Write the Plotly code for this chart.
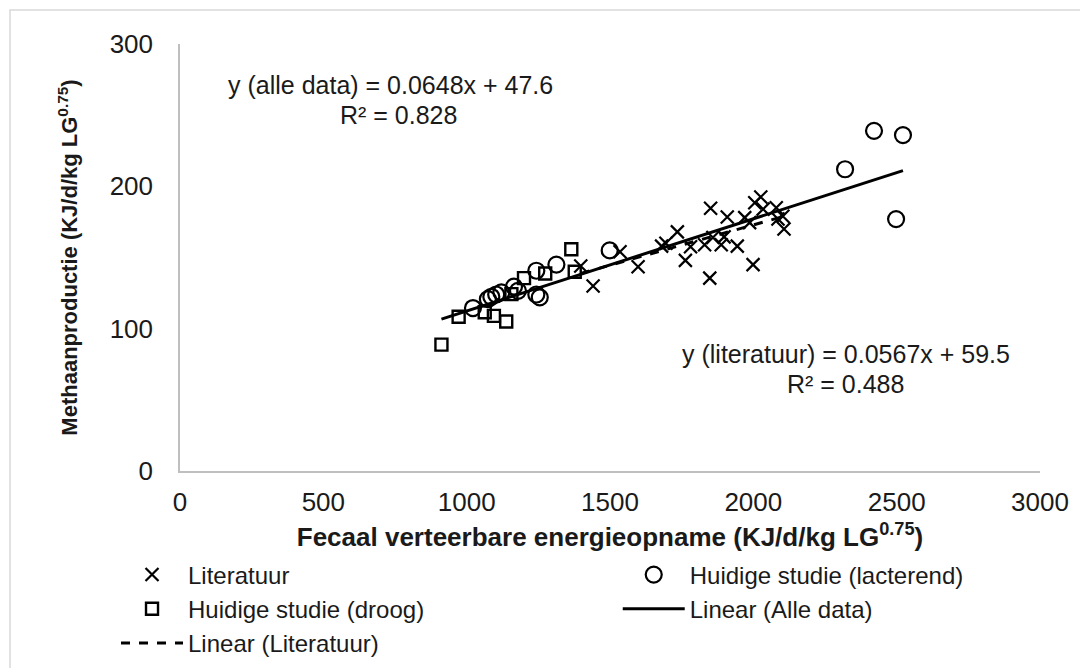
import plotly.graph_objects as go

# ---- data ----
lit_x = [1398, 1441, 1535, 1598, 1680, 1695, 1735, 1763, 1781, 1830, 1848, 1851, 1859,
         1888, 1898, 1909, 1944, 1970, 1987, 1999, 2005, 2026, 2034, 2080, 2086, 2103, 2107]
lit_y = [144, 130, 154, 143.5, 158, 160, 168, 148, 157.5, 159, 135.5, 184.6, 164,
         159, 164.5, 178.5, 158, 178, 174.5, 145, 188.5, 192.5, 184, 185, 177, 179, 170]

lac_x = [1022, 1074, 1086, 1103, 1121, 1165, 1179, 1243, 1255, 1243, 1313, 1499, 2320, 2421, 2522, 2498]
lac_y = [114.5, 120.8, 122.4, 124, 125.5, 129.5, 126.6, 124, 122, 140.7, 145, 155, 212, 239, 236, 177]

droog_x = [912, 972, 1063, 1095, 1138, 1156, 1200, 1274, 1365, 1377]
droog_y = [88.8, 108.4, 111.5, 109, 105, 124.3, 135.5, 138.8, 155.8, 140]

# trendline coefficients (as printed on chart)
all_slope, all_icpt = 0.0648, 47.6
lit_slope, lit_icpt = 0.0567, 59.5

x_ticks = [0, 500, 1000, 1500, 2000, 2500, 3000]
y_ticks = [0, 100, 200, 300]

all_x = lit_x + lac_x + droog_x
ax_min, ax_max = min(all_x), max(all_x)
lx_min, lx_max = min(lit_x), max(lit_x)

FONT = "Liberation Sans, Arial, sans-serif"
INK = "#000000"
TXT = "#1a1a1a"

fig = go.Figure()
fig.add_trace(go.Scatter(x=lit_x, y=lit_y, mode="markers", name="Literatuur", legend="legend",
                         marker=dict(symbol="x-thin", size=13, color=INK,
                                     line=dict(width=2.2, color=INK))))
fig.add_trace(go.Scatter(x=lac_x, y=lac_y, mode="markers", name="Huidige studie (lacterend)",
                         legend="legend2",
                         marker=dict(symbol="circle-open", size=16, color=INK,
                                     line=dict(width=2.2, color=INK))))
fig.add_trace(go.Scatter(x=droog_x, y=droog_y, mode="markers", name="Huidige studie (droog)",
                         legend="legend",
                         marker=dict(symbol="square-open", size=12, color=INK,
                                     line=dict(width=2.4, color=INK))))
fig.add_trace(go.Scatter(x=[ax_min, ax_max],
                         y=[all_slope * ax_min + all_icpt, all_slope * ax_max + all_icpt],
                         mode="lines", name="Linear (Alle data)", legend="legend2",
                         line=dict(color=INK, width=3)))
fig.add_trace(go.Scatter(x=[lx_min, lx_max],
                         y=[lit_slope * lx_min + lit_icpt, lit_slope * lx_max + lit_icpt],
                         mode="lines", name="Linear (Literatuur)", legend="legend",
                         line=dict(color=INK, width=3, dash="dash")))

# equations
ann_font = dict(size=25, color=TXT, family=FONT)
fig.add_annotation(x=0.0535, y=0.904, xref="paper", yref="paper", xanchor="left", yanchor="middle",
                   text="y (alle data) = 0.0648x + 47.6", showarrow=False, font=ann_font)
fig.add_annotation(x=0.2535, y=0.834, xref="paper", yref="paper", xanchor="center", yanchor="middle",
                   text="R² = 0.828", showarrow=False, font=ann_font)
fig.add_annotation(x=0.774, y=0.273, xref="paper", yref="paper", xanchor="center", yanchor="middle",
                   text="y (literatuur) = 0.0567x + 59.5", showarrow=False, font=ann_font)
fig.add_annotation(x=0.774, y=0.203, xref="paper", yref="paper", xanchor="center", yanchor="middle",
                   text="R² = 0.488", showarrow=False, font=ann_font)

# outer chart border
fig.add_shape(type="rect", xref="paper", yref="paper",
              x0=-170 / 860, x1=1 + 53 / 860, y0=-202 / 428, y1=1 + 34 / 428,
              line=dict(color="#d9d9d9", width=1.5))

leg_common = dict(orientation="v", yanchor="top", xanchor="left",
                  font=dict(size=24, family=FONT, color=TXT),
                  bgcolor="rgba(0,0,0,0)", itemwidth=62, tracegroupgap=0)

fig.update_layout(
    width=1088, height=668,
    margin=dict(l=172, r=56, t=36, b=204),
    paper_bgcolor="white", plot_bgcolor="white",
    font=dict(family=FONT, size=26, color=TXT),
    showlegend=True,
    legend=dict(x=-0.0744, y=-0.188, **leg_common),
    legend2=dict(x=0.509, y=-0.188, **leg_common),
    xaxis=dict(range=[0, 3000], tickvals=x_ticks, ticktext=[str(v) for v in x_ticks],
               showgrid=False, zeroline=False, showline=True, linecolor="#bfbfbf", linewidth=1.5,
               ticks="", ticklabelstandoff=7,
               tickfont=dict(size=26, family=FONT, color=TXT),
               title=dict(text="<b>Fecaal verteerbare energieopname (KJ/d/kg LG<sup>0.75</sup>)</b>",
                          font=dict(size=26, family=FONT, color=TXT), standoff=12)),
    yaxis=dict(range=[0, 300], tickvals=y_ticks, ticktext=[str(v) for v in y_ticks],
               showgrid=False, zeroline=False, showline=True, linecolor="#bfbfbf", linewidth=1.5,
               ticks="", ticklabelstandoff=20,
               tickfont=dict(size=26, family=FONT, color=TXT),
               title=dict(text="<b>Methaanproductie (KJ/d/kg LG<sup>0.75</sup>)</b>",
                          font=dict(size=22, family=FONT, color=TXT), standoff=26)),
)

fig.write_html("out.html")
